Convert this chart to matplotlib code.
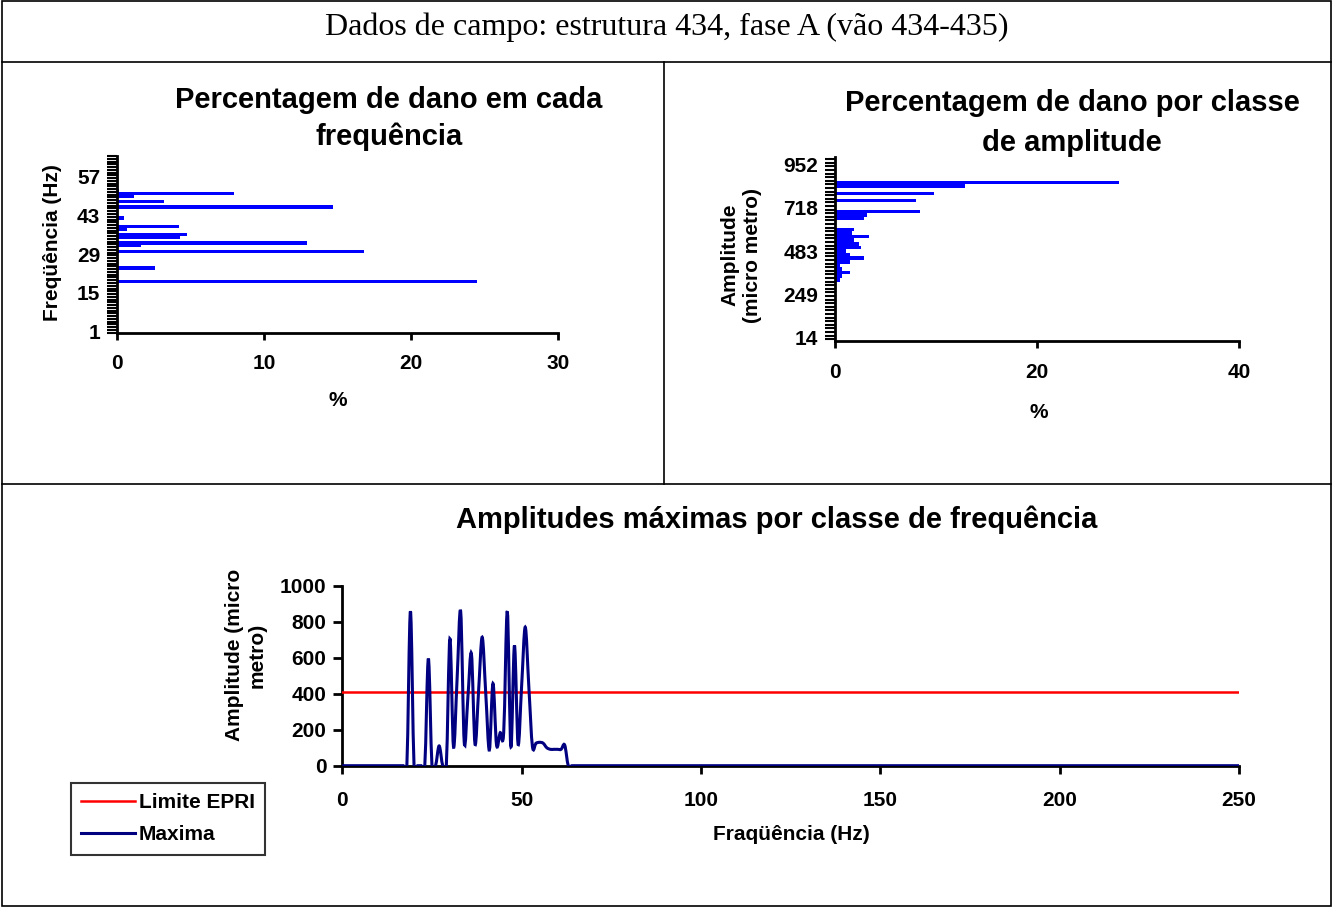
import matplotlib
matplotlib.use('Agg')
import matplotlib.pyplot as plt
from matplotlib.path import Path
from matplotlib.patches import PathPatch, Rectangle
from matplotlib.lines import Line2D
import numpy as np

# ---------------- data ----------------
header_text = 'Dados de campo: estrutura 434, fase A (vão 434-435)'

# Top-left: damage per frequency class (Hz categories 1..64)
freq_n_classes = 64
freq_tick_labels = [1, 15, 29, 43, 57]
freq_bins = [19, 24, 30, 32, 33, 35, 36, 38, 39, 42, 46, 48, 50, 51, 52]
freq_damage = [24.5, 2.6, 16.8, 1.6, 12.9, 4.3, 4.75, 0.7, 4.25, 0.5, 14.7, 3.2, 1.17, 7.94, 0.15]

# Top-right: damage per amplitude class (51 classes, labels every 12th)
amp_n_classes = 51
amp_tick_index = [0, 12, 24, 36, 48]
amp_tick_labels = ['14', '249', '483', '718', '952']
amp_bins = [16, 17, 18, 19, 20, 21, 22, 23, 24, 25, 26, 27, 28, 29, 30,
            33, 34, 35, 38, 40, 42, 43]
amp_damage = [0.46, 0.66, 1.45, 0.66, 0.46, 1.45, 2.84, 1.45, 1.06, 2.6, 2.4, 1.85, 3.4, 1.65, 1.85,
              2.9, 3.2, 8.4, 8.0, 9.8, 12.9, 28.1]

# Bottom: maximum amplitude per frequency (Hz 0..250)
maxima_hz = list(range(0, 251))
maxima_nonzero = {19: 858, 24: 595, 27: 110, 30: 705, 31: 105, 32: 480, 33: 858,
                  34: 128, 35: 375, 36: 622, 37: 120, 38: 417, 39: 714, 40: 400,
                  41: 87, 42: 457, 43: 115, 44: 183, 45: 186, 46: 858, 47: 105,
                  48: 668, 49: 120, 50: 445, 51: 770, 52: 440, 53: 108, 54: 125,
                  55: 130, 56: 125, 57: 100, 58: 91, 59: 91, 60: 91, 61: 91, 62: 115}
maxima_values = [maxima_nonzero.get(f, 0) for f in maxima_hz]
epri_limit = 409

# ---------------- figure ----------------
W, H = 1333, 907
fig = plt.figure(figsize=(W / 100, H / 100), dpi=100)
plt.rcParams['font.family'] = ['Liberation Sans', 'DejaVu Sans']
plt.rcParams['font.weight'] = 'bold'


def fx(px):
    return px / W


def fy(py):
    return 1 - py / H


# frame / table lines
fig.add_artist(Rectangle((fx(1.5), fy(905.5)), fx(1331) - fx(1.5), fy(1.5) - fy(905.5),
                         transform=fig.transFigure, fill=False, edgecolor='black', lw=1.2))
fig.add_artist(Line2D([fx(1.5), fx(1331)], [fy(62), fy(62)], transform=fig.transFigure, color='black', lw=1.2))
fig.add_artist(Line2D([fx(1.5), fx(1331)], [fy(484), fy(484)], transform=fig.transFigure, color='black', lw=1.2))
fig.add_artist(Line2D([fx(664), fx(664)], [fy(62), fy(484)], transform=fig.transFigure, color='black', lw=1.2))

fig.text(fx(667), fy(27), header_text, ha='center', va='center', fontsize=23,
         family=['Liberation Serif', 'DejaVu Serif'], weight='normal')

BLUE = '#0000FF'
TICK_FS = 15


def style_axes(ax):
    for s in ['top', 'right']:
        ax.spines[s].set_visible(False)
    for s in ['left', 'bottom']:
        ax.spines[s].set_linewidth(2)
        ax.spines[s].set_color('black')


# ---------- top-left ----------
ax1 = fig.add_axes([fx(117), fy(332.7), (558 - 117) / W, (332.7 - 156) / H])
ax1.barh(freq_bins, freq_damage, height=1.25, color=BLUE)
ax1.set_xlim(0, 30)
ax1.set_ylim(0.5, freq_n_classes + 0.5)
ax1.set_xticks([0, 10, 20, 30])
ax1.set_yticks(freq_tick_labels)
ax1.set_yticklabels([str(v) for v in freq_tick_labels])
ax1.set_yticks(np.arange(0.5, freq_n_classes + 1, 1), minor=True)
style_axes(ax1)
ax1.tick_params(axis='y', which='major', length=0, pad=12, labelsize=TICK_FS)
ax1.tick_params(axis='y', which='minor', length=7, width=1.5, direction='out')
ax1.tick_params(axis='x', which='major', length=5, width=2, pad=10, labelsize=TICK_FS)
fig.text(fx(389), fy(118.5), 'Percentagem de dano em cada\nfrequência', ha='center', va='center',
         fontsize=21, weight='bold', linespacing=1.38)
fig.text(fx(53), fy(243), 'Freqüência (Hz)', rotation=90, ha='center', va='center', fontsize=TICK_FS)
fig.text(fx(338), fy(400), '%', ha='center', va='center', fontsize=TICK_FS)

# ---------- top-right ----------
ax2 = fig.add_axes([fx(835), fy(340.7), (1239 - 835) / W, (340.7 - 157) / H])
ax2.barh(amp_bins, amp_damage, height=1.0, color=BLUE)
ax2.set_xlim(0, 40)
ax2.set_ylim(-0.9, amp_n_classes - 0.9)
ax2.set_xticks([0, 20, 40])
ax2.set_yticks(amp_tick_index)
ax2.set_yticklabels(amp_tick_labels)
ax2.set_yticks(np.arange(-0.5, amp_n_classes - 1, 1), minor=True)
style_axes(ax2)
ax2.tick_params(axis='y', which='major', length=0, pad=12, labelsize=TICK_FS)
ax2.tick_params(axis='y', which='minor', length=7, width=1.5, direction='out')
ax2.tick_params(axis='x', which='major', length=5, width=2, pad=11, labelsize=TICK_FS)
fig.text(fx(1072), fy(123), 'Percentagem de dano por classe\nde amplitude', ha='center', va='center',
         fontsize=21, weight='bold', linespacing=1.52)
fig.text(fx(741), fy(255), 'Amplitude\n(micro metro)', rotation=90, ha='center', va='center',
         fontsize=TICK_FS, linespacing=1.25)
fig.text(fx(1039), fy(412), '%', ha='center', va='center', fontsize=TICK_FS)

# ---------- bottom ----------
ax3 = fig.add_axes([fx(342.3), fy(765.7), (1239 - 342.3) / W, (765.7 - 585.7) / H])
ax3.plot(maxima_hz, [epri_limit] * len(maxima_hz), color='#FF0000', lw=1.8, label='Limite EPRI', zorder=3)

xs = np.asarray(maxima_hz, dtype=float)
ys = np.asarray(maxima_values, dtype=float)
n = len(xs)
verts = [(xs[0], ys[0])]
codes = [Path.MOVETO]
for i in range(n - 1):
    i0 = max(i - 1, 0)
    i3 = min(i + 2, n - 1)
    c1 = (xs[i] + (xs[i + 1] - xs[i0]) / 6.0, ys[i] + (ys[i + 1] - ys[i0]) / 6.0)
    c2 = (xs[i + 1] - (xs[i3] - xs[i]) / 6.0, ys[i + 1] - (ys[i3] - ys[i]) / 6.0)
    verts += [c1, c2, (xs[i + 1], ys[i + 1])]
    codes += [Path.CURVE4] * 3
ax3.add_patch(PathPatch(Path(verts, codes), facecolor='none', edgecolor='#000080', lw=2.2, zorder=4))

ax3.set_xlim(0, 250)
ax3.set_ylim(0, 1000)
ax3.set_xticks(range(0, 251, 50))
ax3.set_yticks(range(0, 1001, 200))
style_axes(ax3)
ax3.tick_params(axis='y', length=6.5, width=2, pad=5, labelsize=TICK_FS)
ax3.tick_params(axis='x', length=5.5, width=2, pad=12.5, labelsize=TICK_FS)

fig.text(fx(777), fy(520), 'Amplitudes máximas por classe de frequência', ha='center', va='center',
         fontsize=21, weight='bold')
fig.text(fx(246), fy(655), 'Amplitude (micro\nmetro)', rotation=90, ha='center', va='center',
         fontsize=TICK_FS, linespacing=1.2)
fig.text(fx(791), fy(835), 'Fraqüência (Hz)', ha='center', va='center', fontsize=TICK_FS)

handles = [Line2D([], [], color='#FF0000', lw=1.8), Line2D([], [], color='#000080', lw=2.2)]
leg = ax3.legend(handles, ['Limite EPRI', 'Maxima'], loc='upper left',
                 bbox_to_anchor=(fx(71), fy(783)), bbox_transform=fig.transFigure,
                 frameon=True, fancybox=False, edgecolor='black', borderaxespad=0,
                 prop={'size': TICK_FS, 'weight': 'bold'}, handlelength=2.55, handletextpad=0.2,
                 labelspacing=0.62, borderpad=0.5)
leg.get_frame().set_linewidth(1.5)

fig.savefig('out.png', dpi=100)
